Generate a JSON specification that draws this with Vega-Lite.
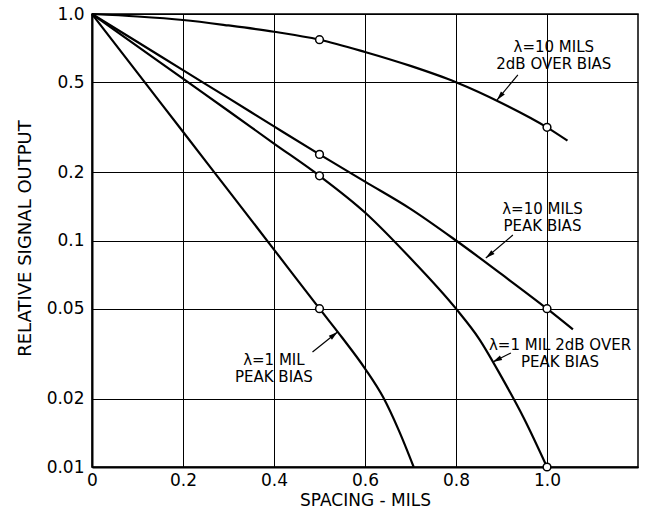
{
  "$schema": "https://vega.github.io/schema/vega-lite/v6.json",
  "width": 546,
  "height": 453,
  "autosize": {"type": "none"},
  "padding": {"left": 92, "top": 14, "right": 11, "bottom": 47},
  "background": "white",
  "config": {
    "view": {"stroke": "black", "strokeWidth": 1.5},
    "font": "DejaVu Sans"
  },
  "datasets": {
    "curves": [
      {"series": "10 mils 2dB over bias", "x": 0, "y": 1},
      {"series": "10 mils 2dB over bias", "x": 0.1, "y": 0.975},
      {"series": "10 mils 2dB over bias", "x": 0.2, "y": 0.941},
      {"series": "10 mils 2dB over bias", "x": 0.3, "y": 0.89},
      {"series": "10 mils 2dB over bias", "x": 0.4, "y": 0.835},
      {"series": "10 mils 2dB over bias", "x": 0.5, "y": 0.77},
      {"series": "10 mils 2dB over bias", "x": 0.6, "y": 0.68},
      {"series": "10 mils 2dB over bias", "x": 0.7, "y": 0.59},
      {"series": "10 mils 2dB over bias", "x": 0.8, "y": 0.5},
      {"series": "10 mils 2dB over bias", "x": 0.9, "y": 0.405},
      {"series": "10 mils 2dB over bias", "x": 1.0, "y": 0.316},
      {"series": "10 mils 2dB over bias", "x": 1.045, "y": 0.276},
      {"series": "10 mils peak bias", "x": 0, "y": 1},
      {"series": "10 mils peak bias", "x": 0.1, "y": 0.752},
      {"series": "10 mils peak bias", "x": 0.2, "y": 0.565},
      {"series": "10 mils peak bias", "x": 0.3, "y": 0.425},
      {"series": "10 mils peak bias", "x": 0.4, "y": 0.319},
      {"series": "10 mils peak bias", "x": 0.5, "y": 0.24},
      {"series": "10 mils peak bias", "x": 0.6, "y": 0.182},
      {"series": "10 mils peak bias", "x": 0.7, "y": 0.138},
      {"series": "10 mils peak bias", "x": 0.8, "y": 0.1},
      {"series": "10 mils peak bias", "x": 0.9, "y": 0.071},
      {"series": "10 mils peak bias", "x": 1.0, "y": 0.05},
      {"series": "10 mils peak bias", "x": 1.057, "y": 0.0405},
      {"series": "1 mil 2dB over peak bias", "x": 0, "y": 1},
      {"series": "1 mil 2dB over peak bias", "x": 0.1, "y": 0.72},
      {"series": "1 mil 2dB over peak bias", "x": 0.2, "y": 0.518},
      {"series": "1 mil 2dB over peak bias", "x": 0.3, "y": 0.373},
      {"series": "1 mil 2dB over peak bias", "x": 0.4, "y": 0.268},
      {"series": "1 mil 2dB over peak bias", "x": 0.5, "y": 0.193},
      {"series": "1 mil 2dB over peak bias", "x": 0.6, "y": 0.133},
      {"series": "1 mil 2dB over peak bias", "x": 0.7, "y": 0.0835},
      {"series": "1 mil 2dB over peak bias", "x": 0.8, "y": 0.05},
      {"series": "1 mil 2dB over peak bias", "x": 0.85, "y": 0.037},
      {"series": "1 mil 2dB over peak bias", "x": 0.9, "y": 0.025},
      {"series": "1 mil 2dB over peak bias", "x": 0.95, "y": 0.0163},
      {"series": "1 mil 2dB over peak bias", "x": 1.0, "y": 0.01},
      {"series": "1 mil peak bias", "x": 0, "y": 1},
      {"series": "1 mil peak bias", "x": 0.1, "y": 0.55},
      {"series": "1 mil peak bias", "x": 0.2, "y": 0.302},
      {"series": "1 mil peak bias", "x": 0.3, "y": 0.166},
      {"series": "1 mil peak bias", "x": 0.4, "y": 0.0912},
      {"series": "1 mil peak bias", "x": 0.5, "y": 0.05},
      {"series": "1 mil peak bias", "x": 0.55, "y": 0.0372},
      {"series": "1 mil peak bias", "x": 0.6, "y": 0.0272},
      {"series": "1 mil peak bias", "x": 0.64, "y": 0.0203},
      {"series": "1 mil peak bias", "x": 0.675, "y": 0.0144},
      {"series": "1 mil peak bias", "x": 0.707, "y": 0.01}
    ],
    "circles": [
      {"x": 0.5, "y": 0.77},
      {"x": 1.0, "y": 0.316},
      {"x": 0.5, "y": 0.24},
      {"x": 1.0, "y": 0.05},
      {"x": 0.5, "y": 0.193},
      {"x": 1.0, "y": 0.01},
      {"x": 0.5, "y": 0.05}
    ],
    "labels": [
      {"x": 1.015, "y": 0.715, "text": "λ=10 MILS|2dB OVER BIAS"},
      {"x": 0.99, "y": 0.1377, "text": "λ=10 MILS|PEAK BIAS"},
      {"x": 1.0286, "y": 0.03456, "text": "λ=1 MIL 2dB OVER|PEAK BIAS"},
      {"x": 0.3998, "y": 0.02968, "text": "λ=1 MIL|PEAK BIAS"}
    ],
    "leaders": [
      {"id": "a", "x": 0.936, "y": 0.538, "x2": 0.89, "y2": 0.417},
      {"id": "b", "x": 0.925, "y": 0.1057, "x2": 0.8656, "y2": 0.0837},
      {"id": "c", "x": 0.9207, "y": 0.03187, "x2": 0.881, "y2": 0.02908},
      {"id": "d", "x": 0.4846, "y": 0.03219, "x2": 0.5396, "y2": 0.03945}
    ]
  },
  "encoding": {
    "x": {
      "field": "x",
      "type": "quantitative",
      "scale": {"domain": [0, 1.2], "nice": false, "zero": false},
      "axis": {
        "values": [0, 0.2, 0.4, 0.6, 0.8, 1.0],
        "labelExpr": "datum.value == 0 ? '0' : format(datum.value, '.1f')",
        "title": "SPACING - MILS",
        "grid": true,
        "gridColor": "black",
        "gridWidth": 1,
        "gridOpacity": 1,
        "ticks": false,
        "tickSize": 0,
        "domainColor": "black",
        "domainWidth": 2,
        "labelFont": "DejaVu Sans",
        "labelFontSize": 17,
        "labelColor": "black",
        "labelPadding": 5,
        "labelFlush": false,
        "labelOverlap": false,
        "titleFont": "DejaVu Sans",
        "titleFontSize": 17,
        "titleFontWeight": "normal",
        "titleColor": "black",
        "titlePadding": 4
      }
    },
    "y": {
      "field": "y",
      "type": "quantitative",
      "scale": {"type": "log", "domain": [0.01, 1], "nice": false},
      "axis": {
        "values": [0.01, 0.02, 0.05, 0.1, 0.2, 0.5, 1],
        "labelExpr": "datum.value == 1 ? '1.0' : format(datum.value, '~g')",
        "title": "RELATIVE SIGNAL OUTPUT",
        "grid": true,
        "gridColor": "black",
        "gridWidth": 1,
        "gridOpacity": 1,
        "ticks": false,
        "tickSize": 0,
        "domainColor": "black",
        "domainWidth": 2,
        "labelFont": "DejaVu Sans",
        "labelFontSize": 17,
        "labelColor": "black",
        "labelPadding": 8,
        "labelOverlap": false,
        "titleFont": "DejaVu Sans",
        "titleFontSize": 18,
        "titleFontWeight": "normal",
        "titleColor": "black",
        "titleAngle": 270,
        "titleAlign": "center",
        "titleBaseline": "middle",
        "titleX": -67,
        "titleY": 224
      }
    }
  },
  "layer": [
    {
      "data": {"name": "curves"},
      "mark": {"type": "line", "color": "black", "strokeWidth": 2.2, "interpolate": "monotone"},
      "encoding": {"detail": {"field": "series"}}
    },
    {
      "data": {"name": "leaders"},
      "mark": {"type": "rule", "color": "black", "strokeWidth": 1.2},
      "encoding": {"x2": {"field": "x2"}, "y2": {"field": "y2"}}
    },
    {
      "data": {"name": "leaders"},
      "transform": [{"filter": "datum.id == 'a'"}],
      "mark": {"type": "point", "shape": "M0,0L-0.3,1.1L0.3,1.1Z", "filled": true, "color": "black", "opacity": 1, "size": 280, "angle": 220},
      "encoding": {"x": {"field": "x2", "type": "quantitative"}, "y": {"field": "y2", "type": "quantitative"}}
    },
    {
      "data": {"name": "leaders"},
      "transform": [{"filter": "datum.id == 'b'"}],
      "mark": {"type": "point", "shape": "M0,0L-0.3,1.1L0.3,1.1Z", "filled": true, "color": "black", "opacity": 1, "size": 280, "angle": 230},
      "encoding": {"x": {"field": "x2", "type": "quantitative"}, "y": {"field": "y2", "type": "quantitative"}}
    },
    {
      "data": {"name": "leaders"},
      "transform": [{"filter": "datum.id == 'c'"}],
      "mark": {"type": "point", "shape": "M0,0L-0.3,1.1L0.3,1.1Z", "filled": true, "color": "black", "opacity": 1, "size": 280, "angle": 243},
      "encoding": {"x": {"field": "x2", "type": "quantitative"}, "y": {"field": "y2", "type": "quantitative"}}
    },
    {
      "data": {"name": "leaders"},
      "transform": [{"filter": "datum.id == 'd'"}],
      "mark": {"type": "point", "shape": "M0,0L-0.3,1.1L0.3,1.1Z", "filled": true, "color": "black", "opacity": 1, "size": 280, "angle": 51},
      "encoding": {"x": {"field": "x2", "type": "quantitative"}, "y": {"field": "y2", "type": "quantitative"}}
    },
    {
      "data": {"name": "circles"},
      "mark": {"type": "point", "shape": "circle", "filled": true, "fill": "white", "stroke": "black", "strokeWidth": 1.5, "size": 60, "opacity": 1}
    },
    {
      "data": {"name": "labels"},
      "mark": {"type": "text", "font": "DejaVu Sans", "fontSize": 15, "align": "center", "baseline": "middle", "color": "black", "lineBreak": "|", "lineHeight": 17},
      "encoding": {"text": {"field": "text"}}
    }
  ]
}
